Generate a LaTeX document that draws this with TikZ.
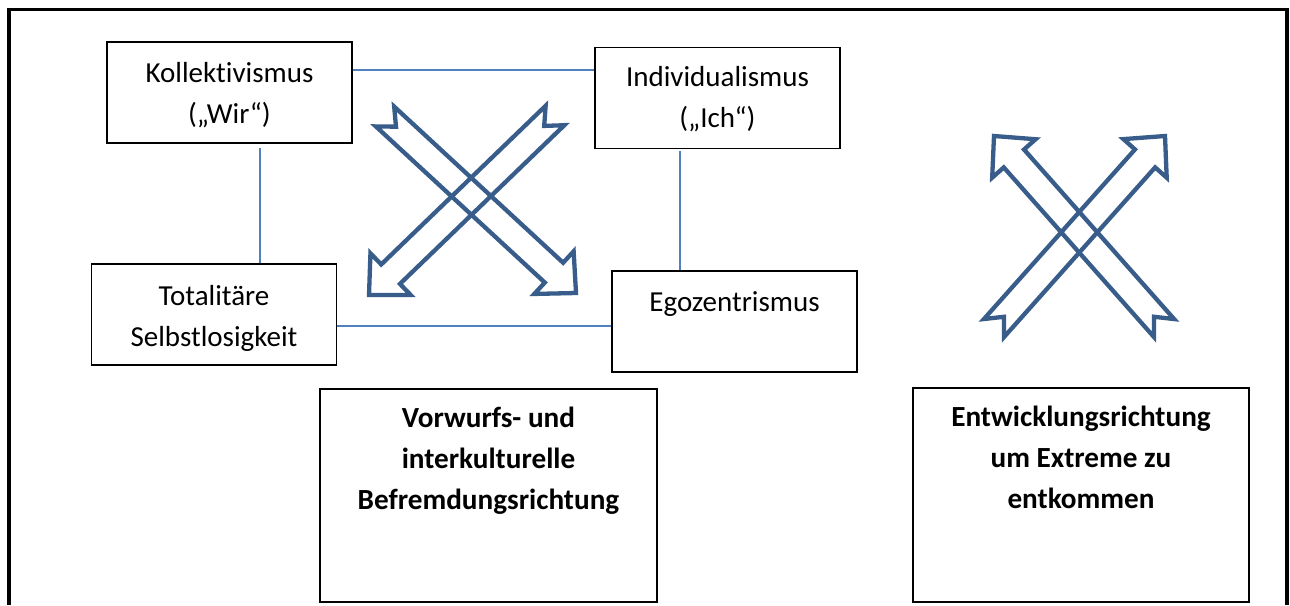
\documentclass[tikz,border=0pt]{standalone}
\usepackage{fontspec}
\setmainfont{Carlito}[RawFeature=-liga]
\usetikzlibrary{calc}
\definecolor{arrblue}{HTML}{385D8A}
\definecolor{connblue}{HTML}{4F81BD}
\newcommand\blockarr[3]{%
  \coordinate (#3b) at ($(#2)!30pt!(#1)$);
  \draw[arrowline] ($(#1)!13.5pt!90:(#2)$) -- ($(#3b)!13.5pt!90:(#2)$) -- ($(#3b)!29pt!90:(#2)$)
    -- (#2) -- ($(#3b)!29pt!-90:(#2)$) -- ($(#3b)!13.5pt!-90:(#2)$) -- ($(#1)!13.5pt!-90:(#2)$)
    -- ($(#1)!15pt!(#2)$) -- cycle;
}
\begin{document}
\begin{tikzpicture}[x=1pt,y=-1pt,
  frame/.style={line width=3.3pt,black},
  box/.style={draw=black,line width=1.3pt,minimum width=245pt,minimum height=101pt,inner sep=0pt},
  bigbox/.style={draw=black,line width=1.3pt,inner sep=0pt},
  txt/.style={anchor=north,inner sep=0pt,align=center,font=\fontsize{29}{41}\selectfont},
  btxt/.style={txt,font=\fontsize{29.2}{41}\selectfont\bfseries},
  conn/.style={connblue,line width=2pt},
  arrowline/.style={draw=arrblue,line width=4.3pt,line join=miter,miter limit=10}]
\useasboundingbox (0,0) rectangle (1290,605);
\fill[white] (0,0) rectangle (1290,605);
% outer frame
\draw[frame] (9,605) -- (9,9.5) -- (1287,9.5) -- (1287,605);
% boxes
\node[box] (koll) at (229.5,92.5) {};
\node[box] (indiv) at (717.5,97.7) {};
\node[box] (total) at (214,314.5) {};
\node[box] (ego) at (734.5,321.5) {};
\node[bigbox,minimum width=337pt,minimum height=213pt] (vorw) at (488.5,495.5) {};
\node[bigbox,minimum width=336pt,minimum height=214pt] (entw) at (1081,495) {};
% texts
\node[txt] (kollt) at ([yshift=-12pt]koll.north) {\strut Kollektivismus\\\strut(„Wir“)};
\node[txt] (indivt) at ([yshift=-11.5pt]indiv.north) {\strut Individualismus\\\strut(„Ich“)};
\node[txt] (totalt) at ([yshift=-13pt]total.north) {\strut Totalitäre\\\strut Selbstlosigkeit};
\node[txt] (egot) at ([yshift=-12pt]ego.north) {\strut Egozentrismus};
\node[btxt] (vorwt) at ([yshift=-10pt]vorw.north) {\strut Vorwurfs- und\\\strut interkulturelle\\\strut Befremdungsrichtung};
\node[btxt] (entwt) at ([yshift=-10pt]entw.north) {\strut Entwicklungsrichtung\\\strut um Extreme zu\\\strut entkommen};
% connectors
\draw[conn] ([yshift=-29pt]koll.north east) coordinate (kr) -- (kr -| indiv.west);
\draw[conn] ([xshift=30.5pt,yshift=-4pt]koll.south) coordinate (kb) -- (kb |- total.north);
\draw[conn] ([xshift=-38pt,yshift=-2pt]indiv.south) coordinate (ib) -- (ib |- ego.north);
\draw[conn] ([yshift=-11pt]total.east) coordinate (tr) -- (tr -| ego.west);
% arrows left
\coordinate (a1t) at (385,116.5);
\coordinate (a1h) at (576,293);
\coordinate (a2t) at (555,115.5);
\coordinate (a2h) at (369,295);
\blockarr{a1t}{a1h}{a1}
\blockarr{a2t}{a2h}{a2}
% arrows right
\coordinate (a3t) at (1164,328);
\coordinate (a3h) at (994,136);
\coordinate (a4t) at (994,328);
\coordinate (a4h) at (1165,136);
\blockarr{a3t}{a3h}{a3}
\blockarr{a4t}{a4h}{a4}
\end{tikzpicture}
\end{document}
